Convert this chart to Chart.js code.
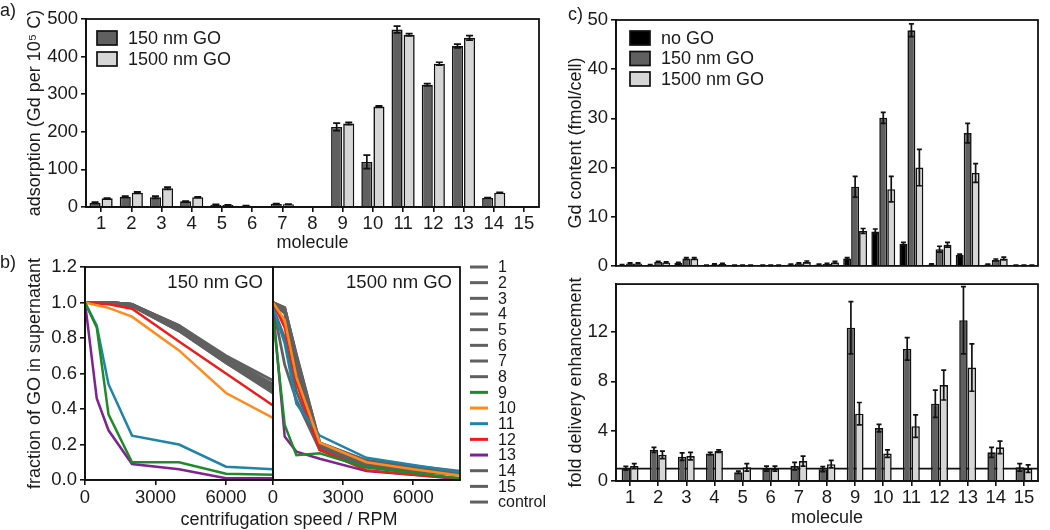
<!DOCTYPE html>
<html>
<head>
<meta charset="utf-8">
<script src="https://cdn.jsdelivr.net/npm/chart.js@4.4.1/dist/chart.umd.min.js"></script>
<style>
  html, body { margin: 0; padding: 0; background: #fff; }
  #fig { position: relative; width: 1050px; height: 530px; overflow: hidden;
         font-family: "Liberation Sans", Arial, sans-serif; color: #1a1a1a; }
  #fig canvas { position: absolute; }
  .lbl { position: absolute; font-size: 18px; line-height: 20px; white-space: nowrap; }
</style>
</head>
<body>
<div id="fig">
  <canvas id="chartA" width="548" height="255" style="left:0;top:0"></canvas>
  <canvas id="chartB1" width="290" height="280" style="left:0;top:250px"></canvas>
  <canvas id="chartB2" width="295" height="280" style="left:262px;top:250px"></canvas>
  <canvas id="chartC1" width="490" height="280" style="left:560px;top:0"></canvas>
  <canvas id="chartC2" width="490" height="260" style="left:560px;top:270px"></canvas>
  <div class="lbl" style="left:0;top:0">a)</div>
  <div class="lbl" style="left:0;top:252px">b)</div>
  <div class="lbl" style="left:568px;top:4px">c)</div>
  <div class="lbl" style="left:289px;top:509px;transform:translateX(-50%)">centrifugation speed / RPM</div>
</div>
<script>
// ---- data ----
const molecules = ['1', '2', '3', '4', '5', '6', '7', '8', '9', '10', '11', '12', '13', '14', '15'];

// a) adsorption (Gd per 10^5 C)
const adsorb150 = [11, 27, 26, 15, 6, 3, 8, 0.5, 213, 120, 472, 325, 428, 24, 0.5];
const adsorb150Err = [2, 2, 3, 1, 1, 1, 1, 0, 10, 18, 9, 3, 5, 1, 0];
const adsorb1500 = [23, 38, 50, 26, 5, 2, 7, 0.5, 222, 267, 458, 381, 450, 38, 0.5];
const adsorb1500Err = [1, 2, 3, 1, 1, 0, 1, 0, 3, 2, 3, 4, 6, 1, 0];

// b) fraction of GO in supernatant
const rpm = [0, 500, 1000, 2000, 4000, 6000, 8000];
const rpmTicks = [0, 3000, 6000];
const seriesLabels = ['1', '2', '3', '4', '5', '6', '7', '8', '9', '10', '11', '12', '13', '14', '15', 'control'];
const frac150 = [
  [1, 1, 1, 0.99, 0.86, 0.68, 0.52],
  [1, 1, 1, 0.99, 0.85, 0.67, 0.50],
  [1, 1, 1, 0.98, 0.84, 0.66, 0.49],
  [1, 1, 1, 0.99, 0.87, 0.69, 0.54],
  [1, 1, 1, 0.99, 0.86, 0.68, 0.53],
  [1, 1, 1, 0.98, 0.85, 0.67, 0.51],
  [1, 1, 1, 0.99, 0.87, 0.70, 0.56],
  [1, 1, 1, 0.99, 0.86, 0.69, 0.53],
  [1, 0.86, 0.37, 0.10, 0.10, 0.035, 0.03],
  [1, 0.985, 0.97, 0.92, 0.73, 0.49, 0.35],
  [1, 0.87, 0.54, 0.25, 0.20, 0.075, 0.06],
  [1, 0.995, 0.99, 0.965, 0.78, 0.60, 0.42],
  [1, 0.46, 0.28, 0.09, 0.06, 0.01, 0.01],
  [1, 1, 1, 0.98, 0.84, 0.66, 0.50],
  [1, 1, 1, 0.99, 0.86, 0.68, 0.52],
  [1, 1, 1, 0.99, 0.85, 0.67, 0.51]
];
const frac1500 = [
  [1.00, 0.97, 0.70, 0.20, 0.10, 0.07, 0.04],
  [0.99, 0.96, 0.68, 0.19, 0.09, 0.06, 0.04],
  [1.00, 0.95, 0.66, 0.18, 0.09, 0.06, 0.03],
  [0.98, 0.65, 0.45, 0.17, 0.08, 0.05, 0.03],
  [1.00, 0.97, 0.71, 0.21, 0.11, 0.07, 0.04],
  [0.99, 0.94, 0.64, 0.19, 0.10, 0.06, 0.03],
  [1.00, 0.96, 0.69, 0.20, 0.10, 0.07, 0.04],
  [0.98, 0.90, 0.60, 0.18, 0.09, 0.06, 0.03],
  [0.92, 0.31, 0.14, 0.15, 0.07, 0.04, 0.01],
  [1.00, 0.90, 0.58, 0.21, 0.10, 0.06, 0.025],
  [0.97, 0.77, 0.43, 0.25, 0.125, 0.085, 0.045],
  [1.00, 0.86, 0.55, 0.17, 0.055, 0.03, 0.01],
  [0.97, 0.245, 0.16, 0.12, 0.05, 0.03, 0.005],
  [1.00, 0.97, 0.70, 0.21, 0.11, 0.08, 0.05],
  [0.99, 0.95, 0.67, 0.19, 0.10, 0.06, 0.04],
  [0.97, 0.80, 0.50, 0.17, 0.08, 0.05, 0.03]
];

// c) Gd content (fmol/cell)
const gdNoGO = [0.2, 0.2, 0.6, 0.1, 0.1, 0.1, 0.3, 0.3, 1.5, 7.0, 4.5, 0.3, 2.2, 0.3, 0.1];
const gdNoGOErr = [0.05, 0.05, 0.1, 0.05, 0.05, 0.05, 0.05, 0.05, 0.2, 0.5, 0.3, 0.1, 0.2, 0.05, 0.05];
const gd150 = [0.5, 0.8, 1.5, 0.3, 0.1, 0.1, 0.5, 0.4, 16.1, 30.1, 47.9, 3.4, 27.0, 1.2, 0.1];
const gd150Err = [0.1, 0.1, 0.2, 0.1, 0.05, 0.05, 0.1, 0.1, 2.1, 1.1, 1.3, 0.6, 2.0, 0.2, 0.05];
const gd1500 = [0.5, 0.7, 1.5, 0.4, 0.1, 0.1, 0.8, 0.7, 7.1, 15.6, 20.0, 4.3, 18.9, 1.5, 0.1];
const gd1500Err = [0.1, 0.1, 0.2, 0.1, 0.05, 0.05, 0.2, 0.2, 0.5, 2.6, 3.7, 0.5, 1.9, 0.3, 0.05];

// c) fold delivery enhancement
const fold150 = [1.03, 2.5, 1.95, 2.2, 0.7, 1.0, 1.2, 0.95, 12.3, 4.25, 10.6, 6.2, 12.9, 2.3, 1.1];
const fold150Err = [0.15, 0.2, 0.3, 0.1, 0.1, 0.2, 0.3, 0.2, 2.1, 0.3, 0.9, 1.1, 2.7, 0.4, 0.3];
const fold1500 = [1.2, 2.1, 2.0, 2.4, 1.1, 1.0, 1.6, 1.35, 5.4, 2.2, 4.4, 7.7, 9.1, 2.7, 1.0];
const fold1500Err = [0.2, 0.3, 0.3, 0.1, 0.3, 0.2, 0.4, 0.3, 0.9, 0.3, 0.9, 1.2, 1.9, 0.5, 0.3];
const foldBaseline = 1;

// ---- style ----
const INK = '#111';
const DARK = '#606060';
const LIGHT = '#d6d6d6';
const FONT = '"Liberation Sans", Arial, sans-serif';
const lineColors = { '9': '#1f8a2a', '10': '#ff8a1e', '11': '#1f84a6', '12': '#ee1c1c', '13': '#7e2390' };

Chart.defaults.font.family = FONT;
Chart.defaults.color = '#1a1a1a';

const tickFont = { size: 18.5 };
const titleFont = { size: 18 };

/* box round the plot area */
const framePlugin = {
  id: 'frame',
  afterDraw(chart) {
    const { ctx, chartArea: a } = chart;
    ctx.save();
    ctx.strokeStyle = INK;
    ctx.lineWidth = 1.8;
    ctx.strokeRect(a.left, a.top, a.right - a.left, a.bottom - a.top);
    ctx.restore();
  }
};

/* error bars, read from dataset.errors */
const errorBarPlugin = {
  id: 'errorBars',
  afterDatasetsDraw(chart, args, opts) {
    const { ctx } = chart;
    const y = chart.scales.y;
    const cap = opts.cap || 3;
    ctx.save();
    ctx.strokeStyle = INK;
    ctx.lineWidth = 1.7;
    chart.data.datasets.forEach((ds, i) => {
      if (!ds.errors) return;
      chart.getDatasetMeta(i).data.forEach((bar, j) => {
        const err = ds.errors[j];
        if (!err) return;
        const v = ds.data[j];
        const top = y.getPixelForValue(v + err);
        const bot = y.getPixelForValue(Math.max(0, v - err));
        ctx.beginPath();
        ctx.moveTo(bar.x, top); ctx.lineTo(bar.x, bot);
        ctx.moveTo(bar.x - cap, top); ctx.lineTo(bar.x + cap, top);
        ctx.moveTo(bar.x - cap, bot); ctx.lineTo(bar.x + cap, bot);
        ctx.stroke();
      });
    });
    ctx.restore();
  }
};

/* horizontal reference line */
const refLinePlugin = {
  id: 'refLine',
  beforeDatasetsDraw(chart, args, opts) {
    if (opts.value == null) return;
    const { ctx, chartArea: a } = chart;
    const py = chart.scales.y.getPixelForValue(opts.value);
    ctx.save();
    ctx.strokeStyle = INK;
    ctx.lineWidth = 1.7;
    ctx.beginPath();
    ctx.moveTo(a.left, py); ctx.lineTo(a.right, py);
    ctx.stroke();
    ctx.restore();
  }
};

/* text in the top right corner of the plot */
const cornerTextPlugin = {
  id: 'cornerText',
  afterDraw(chart, args, opts) {
    if (!opts.text) return;
    const { ctx, chartArea: a } = chart;
    ctx.save();
    ctx.font = '18.5px ' + FONT;
    ctx.fillStyle = '#1a1a1a';
    ctx.textAlign = 'right';
    ctx.textBaseline = 'middle';
    ctx.fillText(opts.text, a.right - opts.dx, a.top + opts.dy);
    ctx.restore();
  }
};

/* hand drawn key, placed relative to the plot area */
const keyPlugin = {
  id: 'key',
  afterDraw(chart, args, opts) {
    if (!opts.kind) return;
    const { ctx, chartArea: a } = chart;
    const x0 = (opts.fromRight ? a.right : a.left) + opts.x;
    ctx.save();
    ctx.font = opts.fontSize + 'px ' + FONT;
    ctx.textBaseline = 'middle';
    chart.data.datasets.forEach((ds, i) => {
      const cy = a.top + opts.y + i * opts.step;
      if (opts.kind === 'box') {
        ctx.fillStyle = ds.backgroundColor;
        ctx.fillRect(x0, cy - 7, 20, 14);
        ctx.strokeStyle = INK;
        ctx.lineWidth = 1.7;
        ctx.strokeRect(x0, cy - 7, 20, 14);
        ctx.fillStyle = '#1a1a1a';
        ctx.fillText(ds.label, x0 + 31, cy + 1);
      } else {
        ctx.strokeStyle = ds.borderColor;
        ctx.lineWidth = 3;
        ctx.beginPath();
        ctx.moveTo(x0, cy); ctx.lineTo(x0 + 18, cy);
        ctx.stroke();
        ctx.fillStyle = '#1a1a1a';
        ctx.fillText(ds.label, x0 + 28, cy + 1);
      }
    });
    ctx.restore();
  }
};

const plugins = [framePlugin, refLinePlugin, errorBarPlugin, cornerTextPlugin, keyPlugin];

function gridOpts(extra) {
  return Object.assign({ drawOnChartArea: false, color: INK, lineWidth: 1.6, tickLength: 5 }, extra || {});
}
const border = { color: INK, width: 1.8 };

function barSet(label, data, errors, color) {
  return { label, data, errors, backgroundColor: color, borderColor: INK, borderWidth: 1.6 };
}

function lineSets(rows) {
  return seriesLabels.map((lab, i) => ({
    label: lab,
    data: rows[i].map((v, k) => ({ x: rpm[k], y: v })),
    borderColor: lineColors[lab] || DARK,
    borderWidth: lineColors[lab] ? 2.5 : 2.8,
    order: lineColors[lab] ? 0 : 1,
    pointRadius: 0,
    tension: 0,
    fill: false
  }));
}

// ---- a) adsorption ----
new Chart(document.getElementById('chartA'), {
  type: 'bar',
  data: {
    labels: molecules,
    datasets: [
      barSet('150 nm GO', adsorb150, adsorb150Err, DARK),
      barSet('1500 nm GO', adsorb1500, adsorb1500Err, LIGHT)
    ]
  },
  options: {
    responsive: false,
    animation: false,
    layout: { padding: { left: 22, right: 9, top: 19, bottom: 0 } },
    datasets: { bar: { categoryPercentage: 0.8, barPercentage: 0.92 } },
    plugins: {
      legend: { display: false },
      tooltip: { enabled: false },
      errorBars: { cap: 3.5 },
      key: { kind: 'box', x: 11, y: 19, step: 21, fontSize: 18 }
    },
    scales: {
      x: {
        grid: gridOpts({ offset: false }),
        border,
        ticks: { font: tickFont, padding: 1, maxRotation: 0, autoSkip: false },
        title: { display: true, text: 'molecule', font: titleFont, padding: { top: 0, bottom: 1 } },
        afterFit: (s) => { s.height = 48; }
      },
      y: {
        min: 0,
        max: 500,
        grid: gridOpts(),
        border,
        ticks: { stepSize: 100, font: tickFont },
        title: { display: true, text: 'adsorption (Gd per 10\u2075 C)', font: titleFont, padding: { top: 2, bottom: 2 } },
        afterFit: (s) => { s.width = 64; }
      }
    }
  },
  plugins
});

// ---- b) sedimentation curves ----
function lineOptions(showY, padding, corner, key) {
  return {
    responsive: false,
    animation: false,
    layout: { padding },
    plugins: {
      legend: { display: false },
      tooltip: { enabled: false },
      cornerText: corner,
      key: key || {}
    },
    scales: {
      x: {
        type: 'linear',
        min: 0,
        max: 8000,
        grid: gridOpts(),
        border,
        ticks: { font: tickFont, padding: 2, maxRotation: 0, autoSkip: false, callback: (v) => String(v) },
        afterBuildTicks: (s) => { s.ticks = rpmTicks.map((v) => ({ value: v })); },
        afterFit: (s) => { s.height = 50; }
      },
      y: {
        display: showY,
        min: 0,
        max: 1.2,
        grid: gridOpts(),
        border,
        ticks: { stepSize: 0.2, font: tickFont, callback: (v) => v.toFixed(1) },
        title: { display: true, text: 'fraction of GO in supernatant', font: titleFont, padding: { top: 2, bottom: 2 } },
        afterFit: (s) => { s.width = showY ? 63 : 0; }
      }
    }
  };
}

new Chart(document.getElementById('chartB1'), {
  type: 'line',
  data: { datasets: lineSets(frac150) },
  options: lineOptions(true, { left: 22, right: 17, top: 17, bottom: 0 }, { text: '150 nm GO', dx: 10, dy: 16 }),
  plugins
});

new Chart(document.getElementById('chartB2'), {
  type: 'line',
  data: { datasets: lineSets(frac1500) },
  options: lineOptions(false, { left: 11, right: 97, top: 17, bottom: 0 }, { text: '1500 nm GO', dx: 8, dy: 16 },
    { kind: 'line', fromRight: true, x: 10, y: 0, step: 15.67, fontSize: 16 }),
  plugins
});

// ---- c) Gd content ----
new Chart(document.getElementById('chartC1'), {
  type: 'bar',
  data: {
    labels: molecules,
    datasets: [
      barSet('no GO', gdNoGO, gdNoGOErr, '#000'),
      barSet('150 nm GO', gd150, gd150Err, DARK),
      barSet('1500 nm GO', gd1500, gd1500Err, LIGHT)
    ]
  },
  options: {
    responsive: false,
    animation: false,
    layout: { padding: { left: 3, right: 12, top: 20, bottom: 3 } },
    datasets: { bar: { categoryPercentage: 0.85, barPercentage: 1.0 } },
    plugins: {
      legend: { display: false },
      tooltip: { enabled: false },
      errorBars: { cap: 2.5 },
      key: { kind: 'box', x: 14, y: 18, step: 20.5, fontSize: 18 }
    },
    scales: {
      x: { display: false },
      y: {
        min: 0,
        max: 50,
        grid: gridOpts(),
        border,
        ticks: { stepSize: 10, font: tickFont },
        title: { display: true, text: 'Gd content (fmol/cell)', font: titleFont, padding: { top: 2, bottom: 2 } },
        afterFit: (s) => { s.width = 53; }
      }
    }
  },
  plugins
});

// ---- c) fold delivery enhancement ----
new Chart(document.getElementById('chartC2'), {
  type: 'bar',
  data: {
    labels: molecules,
    datasets: [
      barSet('150 nm GO', fold150, fold150Err, DARK),
      barSet('1500 nm GO', fold1500, fold1500Err, LIGHT)
    ]
  },
  options: {
    responsive: false,
    animation: false,
    layout: { padding: { left: 3, right: 12, top: 7, bottom: 0 } },
    datasets: { bar: { categoryPercentage: 0.6, barPercentage: 1.0 } },
    plugins: {
      legend: { display: false },
      tooltip: { enabled: false },
      errorBars: { cap: 2.5 },
      refLine: { value: foldBaseline }
    },
    scales: {
      x: {
        grid: gridOpts({ offset: false }),
        border,
        ticks: { font: tickFont, padding: 1, maxRotation: 0, autoSkip: false },
        title: { display: true, text: 'molecule', font: titleFont, padding: { top: 0, bottom: 1 } },
        afterFit: (s) => { s.height = 49; }
      },
      y: {
        min: 0,
        max: 15.8,
        grid: gridOpts(),
        border,
        ticks: { stepSize: 4, includeBounds: false, font: tickFont },
        title: { display: true, text: 'fold delivery enhancement', font: titleFont, padding: { top: 2, bottom: 2 } },
        afterFit: (s) => { s.width = 53; }
      }
    }
  },
  plugins
});
</script>
</body>
</html>
